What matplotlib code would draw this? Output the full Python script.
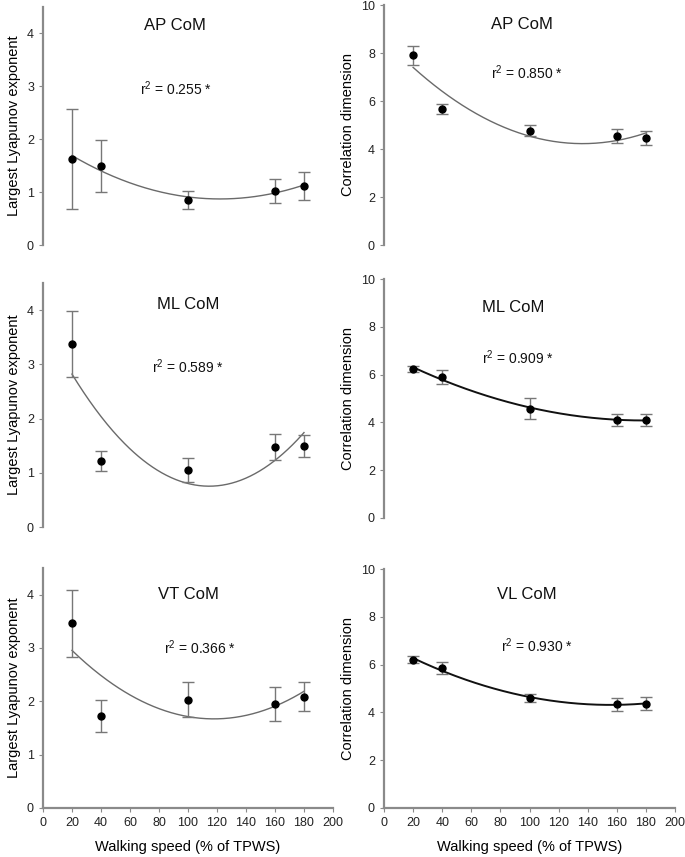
import numpy as np
import matplotlib
matplotlib.use('Agg')
import matplotlib.pyplot as plt

plt.rcParams['font.family'] = ['Liberation Sans', 'DejaVu Sans']
plt.rcParams['mathtext.fontset'] = 'custom'
plt.rcParams['mathtext.rm'] = 'Liberation Sans'
plt.rcParams['mathtext.it'] = 'Liberation Sans:italic'

speed = [20, 40, 100, 160, 180]

# Largest Lyapunov exponent (mean, SD)
lle_ap = [1.63, 1.50, 0.85, 1.02, 1.12]
lle_ap_sd = [0.95, 0.49, 0.17, 0.23, 0.26]
lle_ml = [3.38, 1.22, 1.05, 1.48, 1.50]
lle_ml_sd = [0.61, 0.18, 0.22, 0.24, 0.20]
lle_vt = [3.46, 1.72, 2.03, 1.95, 2.09]
lle_vt_sd = [0.63, 0.30, 0.33, 0.32, 0.27]

# Correlation dimension (mean, SD)
cd_ap = [7.90, 5.67, 4.77, 4.55, 4.47]
cd_ap_sd = [0.40, 0.20, 0.22, 0.28, 0.30]
cd_ml = [6.23, 5.90, 4.58, 4.10, 4.10]
cd_ml_sd = [0.11, 0.28, 0.45, 0.27, 0.25]
cd_vl = [6.21, 5.84, 4.59, 4.34, 4.37]
cd_vl_sd = [0.15, 0.25, 0.16, 0.28, 0.27]

titles = ['AP CoM', 'ML CoM', 'VT CoM', 'AP CoM', 'ML CoM', 'VL CoM']
r2 = ['0.255', '0.589', '0.366', '0.850', '0.909', '0.930']

W, H = 685, 857
fig = plt.figure(figsize=(W / 100, H / 100), dpi=100)

# pixel boxes (left, top, right, bottom)
boxes = [(43, 7, 333, 245), (43, 283, 333, 527), (43, 568, 333, 808),
         (384, 5, 675, 245), (384, 279, 675, 518), (384, 569, 675, 808)]
series = [(lle_ap, lle_ap_sd), (lle_ml, lle_ml_sd), (lle_vt, lle_vt_sd),
          (cd_ap, cd_ap_sd), (cd_ml, cd_ml_sd), (cd_vl, cd_vl_sd)]
title_pos = [(91, 4.15), (100, 4.11), (100, 4.0), (95, 9.17), (89, 8.8), (98, 8.95)]
r2_pos = [(92, 2.96), (100, 2.95), (108, 3.0), (98, 7.2), (92, 6.7), (105, 6.8)]
curve_col = ['#6a6a6a', '#6a6a6a', '#6a6a6a', '#6a6a6a', '#111111', '#111111']
curve_lw = [1.0, 1.0, 1.0, 1.0, 1.4, 1.4]

for i, (b, (m, sd)) in enumerate(zip(boxes, series)):
    l, t, r, btm = b
    ax = fig.add_axes([l / W, 1 - btm / H, (r - l) / W, (btm - t) / H])
    lle = i < 3
    bottom_row = i in (2, 5)

    coef = np.polyfit(speed, m, 2)
    xs = np.linspace(20, 180, 200)
    ax.plot(xs, np.polyval(coef, xs), color=curve_col[i], lw=curve_lw[i], zorder=2)
    ax.errorbar(speed, m, yerr=sd, fmt='o', color='black', ms=5,
                ecolor='#777777', elinewidth=1, capsize=4, capthick=1, zorder=3)

    ax.set_xlim(0, 200)
    if lle:
        ax.set_ylim(0, 4.5)
        ax.set_yticks([0, 1, 2, 3, 4])
        ax.set_ylabel('Largest Lyapunov exponent', fontsize=10.5, labelpad=4)
    else:
        ax.set_ylim(0, 10)
        ax.set_yticks([0, 2, 4, 6, 8, 10])
        ax.set_ylabel('Correlation dimension', fontsize=10.5, labelpad=4)

    for s in ['top', 'right']:
        ax.spines[s].set_visible(False)
    ax.spines['left'].set_color('#8a8a8a')
    ax.spines['left'].set_linewidth(1.6)
    ax.tick_params(axis='both', direction='out', length=3, width=0.8,
                   colors='#8a8a8a', labelcolor='#222222', labelsize=9)

    if bottom_row:
        ax.spines['bottom'].set_color('#8a8a8a')
        ax.spines['bottom'].set_linewidth(1.6)
        ax.set_xticks(range(0, 201, 20))
        ax.set_xlabel('Walking speed (% of TPWS)', fontsize=10.5, labelpad=8)
    else:
        ax.spines['bottom'].set_visible(False)
        ax.set_xticks([])

    ax.text(title_pos[i][0], title_pos[i][1], titles[i], fontsize=12,
            ha='center', va='center', color='#111111')
    ax.text(r2_pos[i][0], r2_pos[i][1], 'r$^{2}$ = ' + r2[i] + ' *', fontsize=10,
            ha='center', va='center', color='#111111')

fig.savefig('out.png', dpi=100)
